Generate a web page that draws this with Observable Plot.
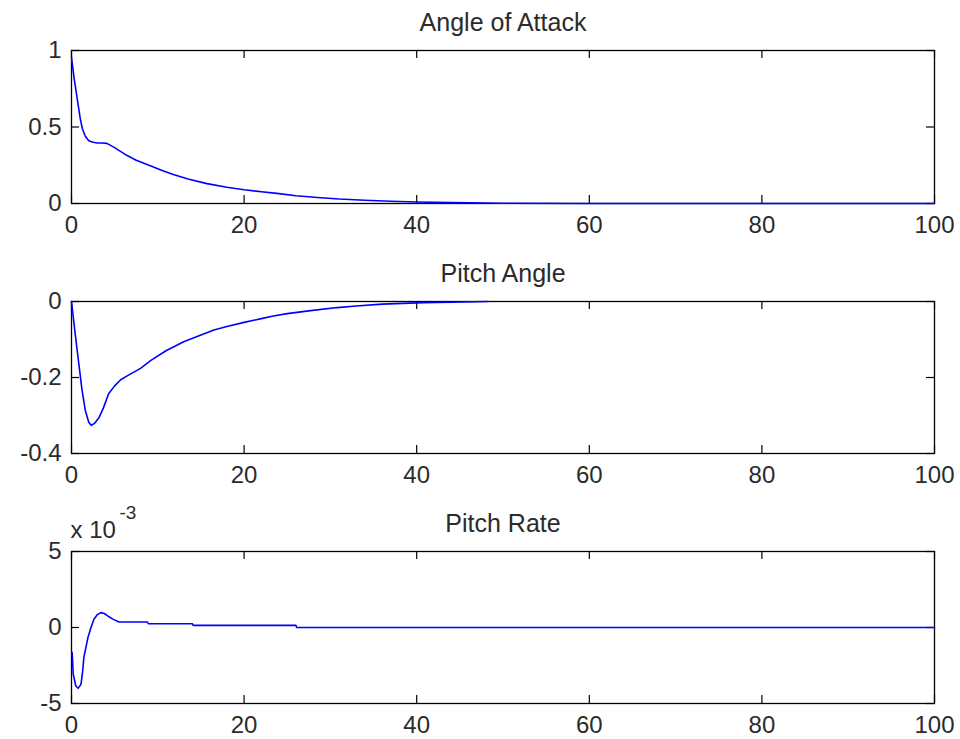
<!DOCTYPE html>
<html>
<head>
<meta charset="utf-8">
<script src="https://cdn.jsdelivr.net/npm/d3@7"></script>
<script src="https://cdn.jsdelivr.net/npm/@observablehq/plot@0.6"></script>
<style>
  html, body { margin: 0; padding: 0; background: #fff; }
  #wrap { width: 960px; height: 739px; overflow: hidden; }
  #wrap svg { display: block; }
</style>
</head>
<body>
<div id="wrap"></div>
<script>
// ---- Data ----
const xTicks = [0, 20, 40, 60, 80, 100];

const titles = ["Angle of Attack", "Pitch Angle", "Pitch Rate"];

// Angle of Attack
const aoaTime = [0, 0.3, 0.65, 1.0, 1.25, 1.6, 2.0, 2.5, 3.0, 3.5, 4.1, 5.0, 6.4, 7.5, 9.2, 10.5, 11.8, 13.5, 15.7, 18, 20, 22, 23.8, 26, 28.5, 31, 34, 37, 40, 44, 50, 60, 70, 80, 90, 100];
const aoaValue = [0.956, 0.82, 0.69, 0.56, 0.49, 0.44, 0.41, 0.40, 0.395, 0.395, 0.393, 0.365, 0.315, 0.283, 0.245, 0.215, 0.19, 0.16, 0.13, 0.106, 0.09, 0.077, 0.066, 0.051, 0.039, 0.029, 0.021, 0.015, 0.01, 0.006, 0.002, 0, 0, 0, 0, 0];
const aoaTicks = [0, 0.5, 1];

// Pitch Angle
const pitchTime = [0, 0.4, 0.85, 1.2, 1.6, 2.0, 2.3, 2.7, 3.2, 3.7, 4.3, 5.0, 5.7, 6.5, 8, 9.2, 11, 13, 15, 16.5, 18, 20, 22, 23.4, 25, 27.7, 30.8, 33, 36, 40.8, 44, 48.3];
const pitchValue = [0, -0.08, -0.164, -0.23, -0.287, -0.318, -0.326, -0.32, -0.305, -0.28, -0.243, -0.222, -0.206, -0.195, -0.176, -0.155, -0.129, -0.106, -0.088, -0.075, -0.066, -0.055, -0.045, -0.038, -0.032, -0.024, -0.016, -0.012, -0.007, -0.003, -0.002, 0];
const pitchTicks = [-0.4, -0.2, 0];

// Pitch Rate
const rateTime = [0, 0.08, 0.2, 0.5, 0.77, 1.1, 1.3, 1.43, 1.9, 2.2, 2.6, 3.0, 3.4, 3.8, 4.2, 4.8, 5.5, 8.8, 8.9, 14.0, 14.1, 26.0, 26.1, 100];
const rateValue = [-0.0016, -0.00166, -0.00306, -0.00385, -0.0040, -0.00374, -0.00286, -0.00198, -0.00067, -0.0001, 0.00054, 0.00085, 0.00098, 0.00092, 0.00076, 0.00055, 0.00036, 0.00036, 0.00025, 0.00025, 0.00014, 0.00014, 0, 0];
const rateTicks = [-0.005, 0, 0.005];

// ---- Drawing ----
const FONT = 'Arial, "Liberation Sans", Helvetica, sans-serif';
const W = 960, ML = 71, MR = 26;
const innerW = W - ML - MR;

function panel({time, value, yDomain, yTicks, yFormat, title, height, marginTop, marginBottom, extra = []}) {
  const innerH = height - marginTop - marginBottom;
  const data = time.map((t, i) => ({t, v: value[i]}));
  return Plot.plot({
    width: W,
    height,
    marginLeft: ML,
    marginRight: MR,
    marginTop,
    marginBottom,
    style: {fontFamily: FONT, fontSize: "24px", color: "#2b2b2b", background: "#fff"},
    x: {domain: [0, 100]},
    y: {domain: yDomain},
    marks: [
      Plot.axisX({ticks: xTicks, tickSize: 0, tickPadding: 12, tickFormat: d => String(d), label: null}),
      Plot.axisY({ticks: yTicks, tickSize: 0, tickPadding: 10, tickFormat: yFormat, label: null}),
      Plot.tickX(xTicks, {x: d => d, stroke: "#000", strokeWidth: 1.2, insetTop: innerH - 8}),
      Plot.tickX(xTicks, {x: d => d, stroke: "#000", strokeWidth: 1.2, insetBottom: innerH - 8}),
      Plot.tickY(yTicks, {y: d => d, stroke: "#000", strokeWidth: 1.2, insetRight: innerW - 8}),
      Plot.tickY(yTicks, {y: d => d, stroke: "#000", strokeWidth: 1.2, insetLeft: innerW - 8}),
      Plot.frame({stroke: "#000", strokeWidth: 1.3}),
      Plot.line(data, {x: "t", y: "v", stroke: "#0000ff", strokeWidth: 1.6}),
      Plot.text([title], {text: d => d, frameAnchor: "top", lineAnchor: "bottom", dy: -20, fontSize: 25, fill: "#2b2b2b"}),
      ...extra
    ]
  });
}

const wrap = document.getElementById("wrap");

wrap.append(panel({
  time: aoaTime, value: aoaValue, yDomain: [0, 1], yTicks: aoaTicks,
  yFormat: d => String(d), title: titles[0],
  height: 250, marginTop: 50, marginBottom: 47
}));

wrap.append(panel({
  time: pitchTime, value: pitchValue, yDomain: [-0.4, 0], yTicks: pitchTicks,
  yFormat: d => String(d), title: titles[1],
  height: 250, marginTop: 51, marginBottom: 47
}));

wrap.append(panel({
  time: rateTime, value: rateValue, yDomain: [-0.005, 0.005], yTicks: rateTicks,
  yFormat: d => String(Math.round(d * 1000)), title: titles[2],
  height: 239, marginTop: 51, marginBottom: 36,
  extra: [
    Plot.text(["x 10"], {text: d => d, frameAnchor: "top-left", textAnchor: "start", lineAnchor: "bottom", dx: -1, dy: -14, fontSize: 24, fill: "#2b2b2b"}),
    Plot.text(["-3"], {text: d => d, frameAnchor: "top-left", textAnchor: "start", lineAnchor: "bottom", dx: 48, dy: -33, fontSize: 19, fill: "#2b2b2b"})
  ]
}));
</script>
</body>
</html>
